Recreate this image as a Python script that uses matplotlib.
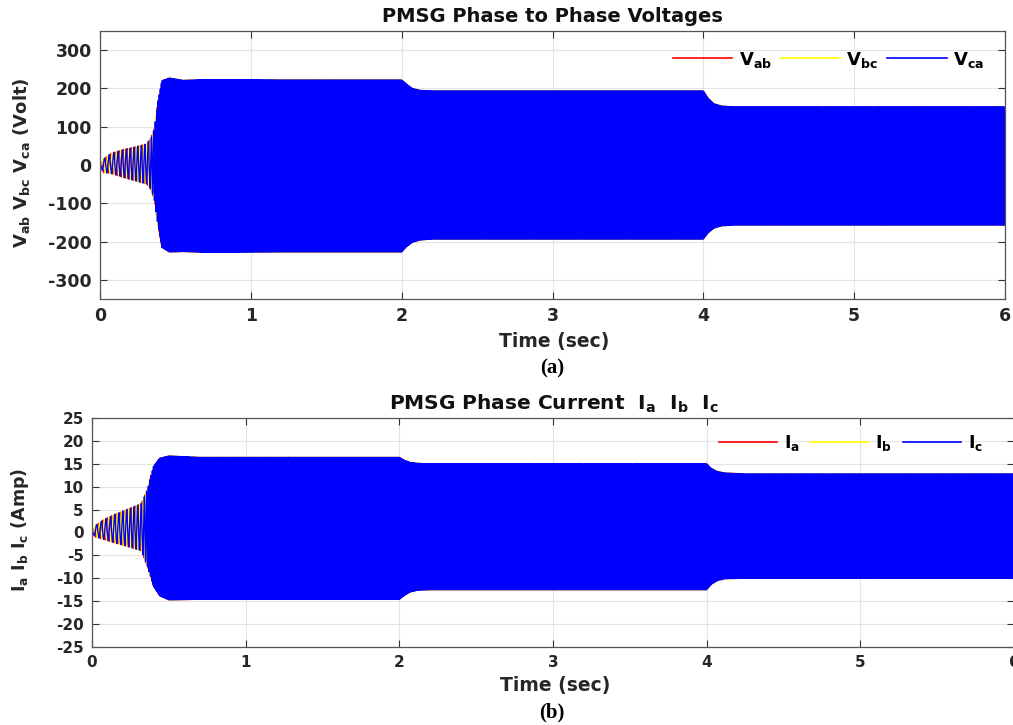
import matplotlib
matplotlib.use("Agg")
import matplotlib.pyplot as plt
import numpy as np

plt.rcParams['font.family'] = ['DejaVu Sans']
plt.rcParams['font.weight'] = 'bold'
plt.rcParams['mathtext.fontset'] = 'dejavusans'
plt.rcParams['axes.unicode_minus'] = False

# envelope of the phase-to-phase voltages (upper / lower edge, V)
v_t     = [0, 0.02, 0.07, 0.15, 0.22, 0.31, 0.34, 0.36, 0.385, 0.41, 0.46, 0.55, 0.7, 1.2, 2.0,
           2.03, 2.07, 2.12, 2.2, 4.0, 4.03, 4.07, 4.12, 4.2, 6.0]
v_upper = [0, 15, 30, 40, 46, 55, 72, 95, 167, 220, 227, 221, 223, 222, 222,
           212, 200, 195, 193.5, 193.5, 175, 160, 154, 152, 152]
v_lower = [0, -20, -22, -32, -40, -50, -65, -90, -160, -215, -227, -226, -228, -227, -227,
           -214, -202, -196, -193.5, -193.5, -178, -165, -159, -157, -157]

# envelope of the phase currents (A)
i_t     = [0, 0.02, 0.074, 0.15, 0.226, 0.32, 0.36, 0.40, 0.44, 0.5, 0.7, 2.0,
           2.03, 2.07, 2.12, 2.2, 4.0, 4.03, 4.07, 4.12, 4.25, 6.0]
i_upper = [0, 1.5, 2.8, 4.0, 5.0, 6.3, 9.3, 14.4, 16.2, 16.7, 16.4, 16.4,
           15.8, 15.3, 15.1, 15.0, 15.0, 14.0, 13.3, 13.0, 12.8, 12.8]
i_lower = [0, -1.0, -1.5, -2.3, -3.0, -4.0, -7.3, -11.7, -13.8, -14.7, -14.6, -14.6,
           -13.8, -13.0, -12.6, -12.5, -12.5, -11.3, -10.5, -10.1, -10.0, -10.0]

# electrical frequency of the machine (Hz)
f_t   = [0, 0.33, 0.42, 2.0, 2.1, 4.0, 4.1, 6.0]
f_val = [30, 45, 170, 170, 150, 150, 130, 130]

phase_names_v = [r'$\mathbf{V_{ab}}$', r'$\mathbf{V_{bc}}$', r'$\mathbf{V_{ca}}$']
phase_names_i = [r'$\mathbf{I_a}$', r'$\mathbf{I_b}$', r'$\mathbf{I_c}$']
colors = ['#ff0000', '#ffff00', '#0000ff']

dt = 4e-5
t = np.arange(0, 6 + dt, dt)
theta = 2 * np.pi * np.cumsum(np.interp(t, f_t, f_val)) * dt


def three_phase(tk, up, lo):
    up = np.interp(t, tk, up)
    lo = np.interp(t, tk, lo)
    mid, half = (up + lo) / 2, (up - lo) / 2
    return [mid + half * np.sin(theta - k * 2 * np.pi / 3) for k in range(3)]


def plot_long(ax, y, c, n, step=8000):
    # draw in overlapping pieces so Agg never has to split the path itself
    for s in range(0, len(t) - 1, step):
        ax.plot(t[s:s + step + 1], y[s:s + step + 1], color=c, lw=0.95,
                label=n if s == 0 else None)


W, H = 1013, 725
fig = plt.figure(figsize=(W / 100, H / 100), dpi=100)


def px(x, y):
    return x / W, 1 - y / H


def axes_px(l, t_, r, b):
    return fig.add_axes([l / W, 1 - b / H, (r - l) / W, (b - t_) / H])


def style(ax, yt, ylim, fs):
    ax.set_xlim(0, 6)
    ax.set_ylim(*ylim)
    ax.set_xticks(range(7))
    ax.set_yticks(yt)
    ax.grid(True, color='#e3e3e3', lw=0.8)
    ax.set_axisbelow(True)
    ax.tick_params(direction='in', top=True, right=True, length=5, width=0.8,
                   color='#333333', labelsize=fs, pad=6)
    for lb in ax.get_xticklabels() + ax.get_yticklabels():
        lb.set_fontweight('bold')
        lb.set_color('#262626')
    for s in ax.spines.values():
        s.set_color('#555555')
        s.set_linewidth(0.9)


# (a) voltages
ax1 = axes_px(100, 31, 1005, 299)
for y, c, n in zip(three_phase(v_t, v_upper, v_lower), colors, phase_names_v):
    plot_long(ax1, y, c, n)
style(ax1, range(-300, 301, 100), (-350, 350), 12.5)
leg = ax1.legend(loc='center right', bbox_to_anchor=(0.995, 0.893), ncol=3, frameon=False,
                 fontsize=13, handlelength=3.3, handletextpad=0.35, columnspacing=0.5)
for h in leg.get_lines():
    h.set_linewidth(1.2)

fig.text(*px(552, 16), 'PMSG Phase to Phase Voltages', ha='center', va='center',
         fontsize=14, fontweight='bold', color='#111111')
fig.text(*px(554, 341), 'Time (sec)', ha='center', va='center', fontsize=13.5,
         fontweight='bold', color='#262626')
fig.text(*px(552, 368), '(a)', ha='center', va='center', fontsize=15, fontweight='bold',
         family='Liberation Serif')
fig.text(*px(22, 163), r'$\mathbf{V_{ab}\ V_{bc}\ V_{ca}}$ (Volt)', ha='center', va='center',
         rotation=90, fontsize=13, fontweight='bold', color='#262626')

# (b) currents
ax2 = axes_px(92, 418, 1014, 647)
for y, c, n in zip(three_phase(i_t, i_upper, i_lower), colors, phase_names_i):
    plot_long(ax2, y, c, n)
style(ax2, range(-25, 26, 5), (-25, 25), 11)
leg = ax2.legend(loc='center right', bbox_to_anchor=(0.983, 0.89), ncol=3, frameon=False,
                 fontsize=12.5, handlelength=3.35, handletextpad=0.4, columnspacing=0.6)
for h in leg.get_lines():
    h.set_linewidth(1.2)

fig.text(*px(554, 404), r'PMSG Phase Current  $\mathbf{I_a}$  $\mathbf{I_b}$  $\mathbf{I_c}$',
         ha='center', va='center', fontsize=14.5, fontweight='bold', color='#111111')
fig.text(*px(555, 685), 'Time (sec)', ha='center', va='center', fontsize=13.5,
         fontweight='bold', color='#262626')
fig.text(*px(552, 712), '(b)', ha='center', va='center', fontsize=15, fontweight='bold',
         family='Liberation Serif')
fig.text(*px(20, 530), r'$\mathbf{I_a\ I_b\ I_c}$ (Amp)', ha='center', va='center',
         rotation=90, fontsize=12.5, fontweight='bold', color='#262626')

fig.savefig('out.png', dpi=100)
